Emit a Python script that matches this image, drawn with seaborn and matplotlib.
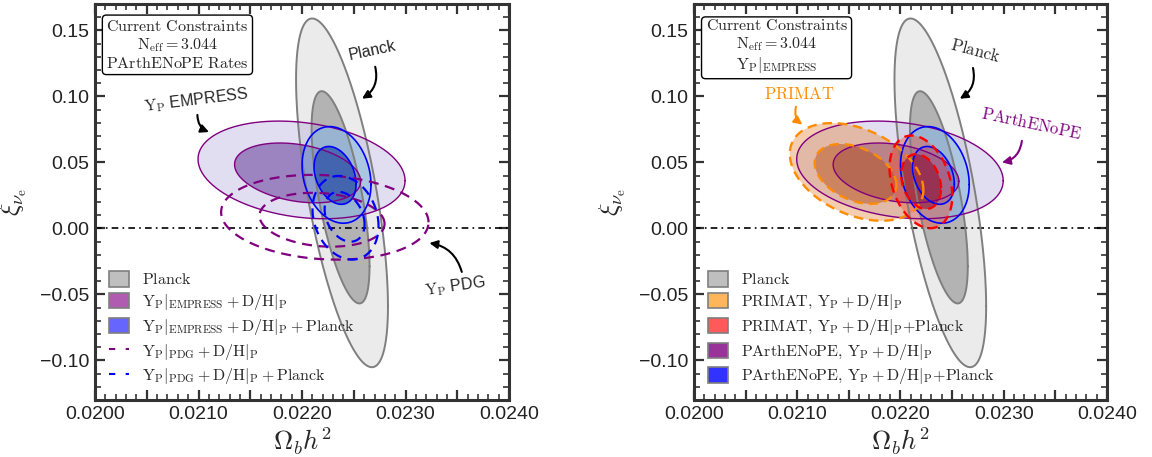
import numpy as np
import matplotlib
matplotlib.use("Agg")
import matplotlib.pyplot as plt
import seaborn as sns
from matplotlib.colors import to_rgba
from matplotlib.patches import Patch
from matplotlib.lines import Line2D
from matplotlib.ticker import MultipleLocator, FuncFormatter

# Contours as [x centre, y centre, x half-extent, y half-extent, correlation]
PLANCK_2S = [0.022386, 0.02695, 0.000444, 0.1321, -0.65]
PLANCK_1S = [0.022372, 0.02356, 0.000280, 0.0804, -0.65]
PARTH_2S = [0.021995, 0.04432, 0.001000, 0.0370, -0.22]
PARTH_1S = [0.021957, 0.04206, 0.000609, 0.02265, -0.28]
PARTH_PL_2S = [0.022333, 0.04054, 0.000333, 0.0366, -0.20]
PARTH_PL_1S = [0.022319, 0.04017, 0.000203, 0.0219, -0.30]
PDG_2S = [0.022220, 0.00846, 0.001002, 0.0321, -0.12]
PDG_1S = [0.022193, 0.00657, 0.000604, 0.0204, -0.15]
PDG_PL_2S = [0.022420, 0.00808, 0.000319, 0.0317, -0.20]
PDG_PL_1S = [0.022411, 0.00883, 0.000193, 0.0189, -0.30]
PRIMAT_2S = [0.021575, 0.0428, 0.000647, 0.0370, -0.37]
PRIMAT_1S = [0.021565, 0.04129, 0.000396, 0.02265, -0.37]
PRIMAT_PL_2S = [0.022198, 0.03526, 0.000304, 0.0351, -0.30]
PRIMAT_PL_1S = [0.022200, 0.03549, 0.000193, 0.02076, -0.25]

XLIM = (0.0200, 0.0240)
YLIM = (-0.13, 0.17)

LEFT_LABELS = [r'$\mathrm{Planck}$',
               r'$\mathrm{Y_P|_{EMPRESS}+D/H|_P}$',
               r'$\mathrm{Y_P|_{EMPRESS}+D/H|_P+Planck}$',
               r'$\mathrm{Y_P|_{PDG}+D/H|_P}$',
               r'$\mathrm{Y_P|_{PDG}+D/H|_P+Planck}$']
RIGHT_LABELS = [r'$\mathrm{Planck}$',
                r'$\mathrm{PRIMAT,\,Y_P+D/H|_P}$',
                r'$\mathrm{PRIMAT,\,Y_P+D/H|_P{+}Planck}$',
                r'$\mathrm{PArthENoPE,\,Y_P+D/H|_P}$',
                r'$\mathrm{PArthENoPE,\,Y_P+D/H|_P{+}Planck}$']

sns.set_theme(style="ticks")
plt.rcParams['font.family'] = ['Liberation Sans', 'DejaVu Sans']
plt.rcParams['mathtext.fontset'] = 'cm'

FRAME = '#333333'


def ellipse(c, n=300):
    x0, y0, dx, dy, rho = c
    t = np.linspace(0, 2 * np.pi, n)
    x = x0 + dx * np.cos(t)
    y = y0 + dy * (rho * np.cos(t) + np.sqrt(1 - rho ** 2) * np.sin(t))
    return x, y


def filled(ax, c, face, alpha, edge, lw=1.2, ls='-'):
    x, y = ellipse(c)
    ax.fill(x, y, facecolor=to_rgba(face, alpha), edgecolor='none')
    ax.plot(x, y, color=edge, lw=lw, ls=ls)


def outline(ax, c, color, lw=1.6):
    x, y = ellipse(c)
    ax.plot(x, y, color=color, lw=lw, ls=(0, (4.5, 3)))


def planck(ax):
    filled(ax, PLANCK_2S, '#ebebeb', 1.0, '#7f7f7f', lw=1.4)
    filled(ax, PLANCK_1S, '#b3b3b3', 1.0, '#7f7f7f', lw=1.4)


def style_axes(ax):
    ax.set_xlim(*XLIM)
    ax.set_ylim(*YLIM)
    ax.axhline(0, color='black', lw=1.2, ls=(0, (4, 2.5, 1, 2.5)), zorder=1)
    ax.xaxis.set_major_locator(MultipleLocator(0.0005))
    ax.xaxis.set_minor_locator(MultipleLocator(0.0001))
    ax.xaxis.set_major_formatter(FuncFormatter(
        lambda v, _: f'{v:.4f}' if abs(round(v / 0.001) * 0.001 - v) < 1e-9 else ''))
    ax.yaxis.set_major_locator(MultipleLocator(0.05))
    ax.yaxis.set_minor_locator(MultipleLocator(0.01))
    ax.yaxis.set_major_formatter(FuncFormatter(lambda v, _: f'{v:.2f}'.replace('-', '\u2212')))
    ax.tick_params(which='both', direction='in', top=True, right=True, color=FRAME,
                   labelsize=14, labelcolor='#222222', pad=4)
    ax.tick_params(which='major', length=7, width=1.6)
    ax.tick_params(which='minor', length=4, width=1.2)
    for s in ax.spines.values():
        s.set_linewidth(2.2)
        s.set_color(FRAME)
    ax.set_xlabel(r'$\Omega_b h^2$', fontsize=19, labelpad=2)
    ax.set_ylabel(r'$\xi_{\nu_{\rm e}}$', fontsize=19, labelpad=8)


def curved_arrow(ax, xy, xytext, rad, color='black'):
    ax.annotate('', xy=xy, xytext=xytext,
                arrowprops=dict(arrowstyle='-|>', color=color, lw=1.5, mutation_scale=12,
                                connectionstyle=f'arc3,rad={rad}'))


def legend(ax, handles, labels):
    ax.legend(handles, labels, loc='lower left', bbox_to_anchor=(0.0, 0.0), frameon=False,
              fontsize=11.5, handlelength=1.3, handleheight=1.1, handletextpad=0.8,
              labelspacing=0.3, borderaxespad=0.45)


fig = plt.figure(figsize=(11.52, 4.57), dpi=100)
ax1 = fig.add_axes([0.0825, 0.1247, 0.3594, 0.8665])
ax2 = fig.add_axes([0.6024, 0.1247, 0.3585, 0.8665])

# ---- left panel: PArthENoPE rates, EMPRESS vs PDG helium
planck(ax1)
filled(ax1, PARTH_2S, '#a7a3d6', 0.35, 'purple', lw=1.0)
filled(ax1, PARTH_1S, '#6f49a1', 0.6, 'purple', lw=1.0)
filled(ax1, PARTH_PL_2S, '#84bce1', 0.5, 'blue', lw=1.2)
filled(ax1, PARTH_PL_1S, '#2a52a8', 0.72, 'blue', lw=1.2)
outline(ax1, PDG_2S, 'purple')
outline(ax1, PDG_1S, 'purple')
outline(ax1, PDG_PL_2S, 'blue')
outline(ax1, PDG_PL_1S, 'blue')
style_axes(ax1)

ax1.text(0.199, 0.962, '$\\mathrm{Current\\ Constraints}$\n$\\mathrm{N_{eff}=3.044}$\n'
         '$\\mathrm{PArthENoPE\\ Rates}$', transform=ax1.transAxes, ha='center', va='top',
         fontsize=11.5, linespacing=1.15,
         bbox=dict(boxstyle='round,pad=0.25', fc='white', ec='black', lw=1.0))

ax1.text(0.022676, 0.1349, 'Planck', rotation=12, ha='center', va='center', fontsize=11.5)
curved_arrow(ax1, (0.022556, 0.0972), (0.022700, 0.1245), -0.4)
ax1.text(0.020981, 0.0972, r'$\mathrm{Y_P}$ EMPRESS', rotation=7, ha='center', va='center',
         fontsize=11.5)
curved_arrow(ax1, (0.021126, 0.0723), (0.020990, 0.0881), 0.4)
ax1.text(0.023480, -0.0440, r'$\mathrm{Y_P}$ PDG', rotation=8, ha='center', va='center',
         fontsize=11.5)
curved_arrow(ax1, (0.023203, -0.0108), (0.023550, -0.0350), 0.35)

legend(ax1, [Patch(fc='#bfbfbf', ec='#7f7f7f', lw=1.2),
             Patch(fc='#b05cb0', ec='#7f7f7f', lw=1.2),
             Patch(fc='#6666ff', ec='#7f7f7f', lw=1.2),
             Line2D([], [], color='purple', lw=1.5, ls=(0, (3, 5))),
             Line2D([], [], color='blue', lw=1.5, ls=(0, (3, 5)))], LEFT_LABELS)

# ---- right panel: PRIMAT vs PArthENoPE with EMPRESS helium
planck(ax2)
filled(ax2, PARTH_2S, '#a7a3d6', 0.35, 'purple', lw=1.0)
filled(ax2, PARTH_1S, '#6f49a1', 0.6, 'purple', lw=1.0)
filled(ax2, PARTH_PL_2S, '#84bce1', 0.5, 'blue', lw=1.2)
filled(ax2, PARTH_PL_1S, '#5048c0', 0.35, 'blue', lw=1.2)
filled(ax2, PRIMAT_2S, '#e68237', 0.4, 'darkorange', lw=1.7, ls=(0, (4, 2.5)))
filled(ax2, PRIMAT_1S, '#b8501e', 0.5, 'darkorange', lw=1.7, ls=(0, (4, 2.5)))
filled(ax2, PRIMAT_PL_2S, '#ff4020', 0.35, 'red', lw=1.7, ls=(0, (4, 2.5)))
filled(ax2, PRIMAT_PL_1S, '#901030', 0.6, 'red', lw=1.7, ls=(0, (4, 2.5)))
style_axes(ax2)

ax2.text(0.2, 0.965, '$\\mathrm{Current\\ Constraints}$\n$\\mathrm{N_{eff}=3.044}$\n'
         '$\\mathrm{Y_P|_{EMPRESS}}$', transform=ax2.transAxes, ha='center', va='top',
         fontsize=11.5, linespacing=1.15,
         bbox=dict(boxstyle='round,pad=0.25', fc='white', ec='black', lw=1.0))

ax2.text(0.022725, 0.1349, r'$\mathrm{Planck}$', rotation=-15, ha='center', va='center',
         fontsize=12)
curved_arrow(ax2, (0.022551, 0.0972), (0.022696, 0.1236), -0.4)
ax2.text(0.021024, 0.1017, r'$\mathrm{PRIMAT}$', color='darkorange', ha='center', va='center',
         fontsize=12)
curved_arrow(ax2, (0.021072, 0.0775), (0.020995, 0.0941), 0.4, color='darkorange')
ax2.text(0.023266, 0.0798, r'$\mathrm{PArthENoPE}$', color='purple', rotation=-12,
         ha='center', va='center', fontsize=12)
curved_arrow(ax2, (0.022957, 0.0496), (0.023179, 0.0684), -0.4, color='purple')

legend(ax2, [Patch(fc='#bfbfbf', ec='#7f7f7f', lw=1.2),
             Patch(fc='#ffb55a', ec='#7f7f7f', lw=1.2),
             Patch(fc='#ff5a5a', ec='#7f7f7f', lw=1.2),
             Patch(fc='#993399', ec='#7f7f7f', lw=1.2),
             Patch(fc='#3333ff', ec='#7f7f7f', lw=1.2)], RIGHT_LABELS)

fig.savefig('out.png', dpi=100)
plt.close(fig)
